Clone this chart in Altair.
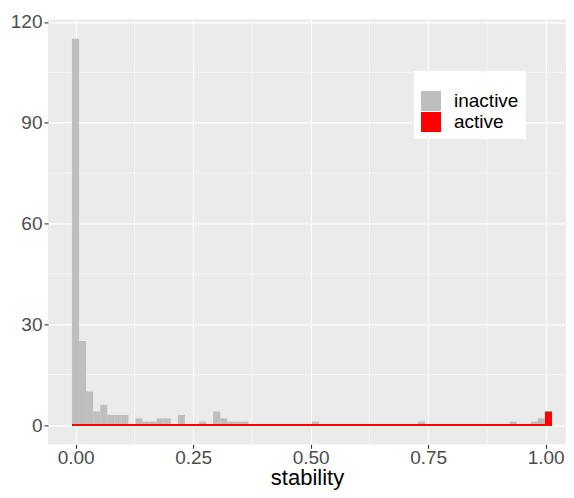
import altair as alt
import pandas as pd

# Histogram binning
bin_start = -0.0079
bin_width = 0.01502
n_bins = 68

# inactive histogram: bin index -> count
inactive_bins = [0, 1, 2, 3, 4, 5, 6, 7, 9, 10, 11, 12, 13, 15, 18, 20, 21, 22, 23, 24, 34, 49, 62, 65, 66, 67]
inactive_counts = [115, 25, 10, 4, 6, 3, 3, 3, 2, 1, 1, 2, 2, 3, 1, 4, 2, 1, 1, 1, 1, 1, 1, 1, 2, 4]

# active histogram: nonzero bins
active_bins = [67]
active_counts = [4]

x_major = [0.0, 0.25, 0.5, 0.75, 1.0]
x_minor = [0.125, 0.375, 0.625, 0.875]
y_major = [0, 30, 60, 90, 120]
y_minor = [15, 45, 75, 105]

legend_labels = ["inactive", "active"]
legend_colors = ["#BEBEBE", "#FF0000"]

FONT = "Liberation Sans"


def make_df(bins, counts, status):
    return pd.DataFrame({
        "lo": [bin_start + b * bin_width for b in bins],
        "hi": [bin_start + (b + 1) * bin_width for b in bins],
        "count": counts,
        "base": [0] * len(bins),
        "status": [status] * len(bins),
    })


inactive_df = make_df(inactive_bins, inactive_counts, "inactive")
active_df = make_df(active_bins, active_counts, "active")
# the active histogram's empty bins show as a red outline along zero
baseline_df = pd.DataFrame({
    "lo": [bin_start],
    "hi": [bin_start + n_bins * bin_width],
    "base": [0],
})

x_scale = alt.Scale(domain=[-0.0589, 1.0432], nice=False, zero=False)
y_scale = alt.Scale(domain=[-5.75, 120.75], nice=False, zero=False)

x_axis = alt.Axis(
    values=x_major, format=".2f", title="stability",
    grid=True, gridColor="white", gridWidth=1.1,
    domain=False, tickColor="#333333", tickSize=4, tickWidth=1.1,
    labelFont=FONT, labelFontSize=19, labelColor="#4D4D4D", labelPadding=0,
    titleFont=FONT, titleFontSize=22, titleColor="black", titleFontWeight="normal",
    titleBaseline="alphabetic", titleY=40.6,
    labelFlush=False,
)
y_axis = alt.Axis(
    values=y_major, format="d", title=None,
    grid=True, gridColor="white", gridWidth=1.1,
    domain=False, tickColor="#333333", tickSize=4, tickWidth=1.1,
    labelFont=FONT, labelFontSize=19, labelColor="#4D4D4D", labelPadding=2,
    labelFlush=False,
)

color = alt.Color(
    "status:N",
    scale=alt.Scale(domain=legend_labels, range=legend_colors),
    legend=alt.Legend(
        title=" ", orient="none", legendX=366, legendY=51.6,
        fillColor="white", padding=7,
        symbolType="square", symbolSize=400, symbolStrokeWidth=0,
        labelFont=FONT, labelFontSize=19, labelColor="black",
        labelOffset=13, rowPadding=1,
        titleFontSize=11, titlePadding=2,
    ),
)

minor_x = alt.Chart(pd.DataFrame({"v": x_minor})).mark_rule(
    color="white", strokeWidth=0.55
).encode(x=alt.X("v:Q", scale=x_scale, axis=x_axis))

minor_y = alt.Chart(pd.DataFrame({"v": y_minor})).mark_rule(
    color="white", strokeWidth=0.55
).encode(y=alt.Y("v:Q", scale=y_scale, axis=y_axis))

gray_bars = alt.Chart(inactive_df).mark_bar(strokeWidth=0).encode(
    x=alt.X("lo:Q", scale=x_scale, axis=x_axis),
    x2="hi:Q",
    y=alt.Y("count:Q", scale=y_scale, axis=y_axis),
    y2="base:Q",
    color=color,
)

red_bars = alt.Chart(active_df).mark_bar(strokeWidth=0).encode(
    x=alt.X("lo:Q", scale=x_scale, axis=x_axis),
    x2="hi:Q",
    y=alt.Y("count:Q", scale=y_scale, axis=y_axis),
    y2="base:Q",
    color=color,
)

baseline = alt.Chart(baseline_df).mark_rule(
    stroke="#FF0000", color="#FF0000", strokeWidth=1.8
).encode(
    x=alt.X("lo:Q", scale=x_scale, axis=x_axis),
    x2="hi:Q",
    y=alt.Y("base:Q", scale=y_scale, axis=y_axis),
)

chart = alt.layer(minor_x, minor_y, gray_bars, red_bars, baseline).properties(
    width=518,
    height=424.92,
    autosize=alt.AutoSizeParams(type="none"),
    padding={"left": 40, "top": 11.4, "right": 0, "bottom": 45.68},
    background="white",
).configure_view(fill="#EBEBEB", stroke=None)

chart.save("out.html", embed_options={"renderer": "svg", "actions": False})
